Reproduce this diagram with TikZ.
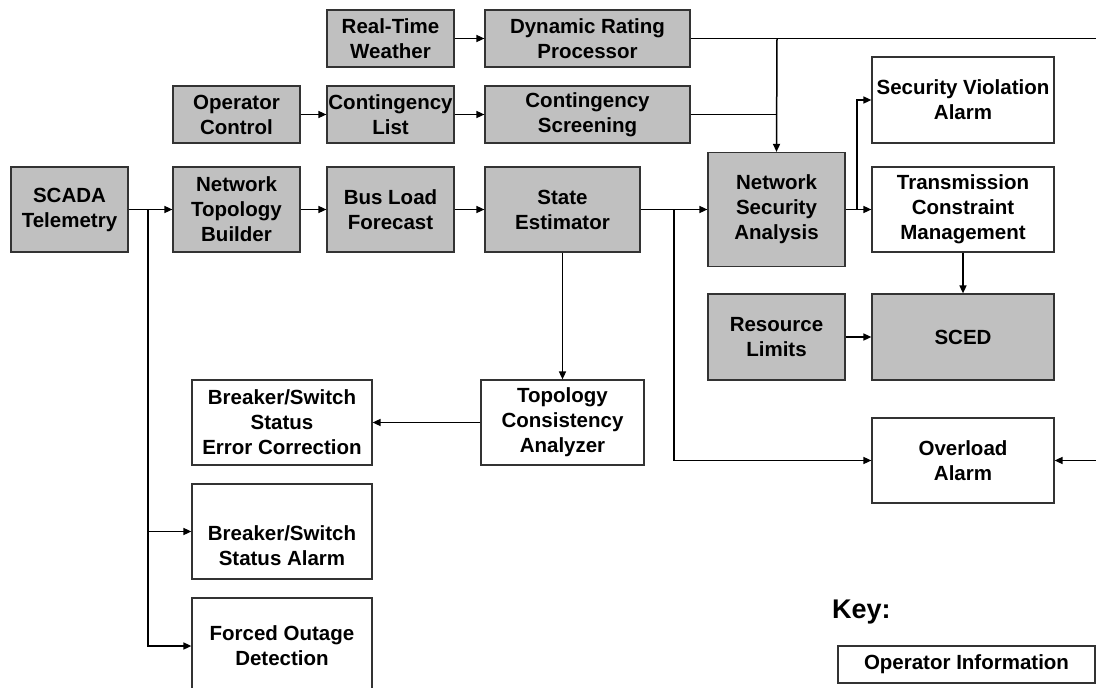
\documentclass[tikz,border=0pt]{standalone}
\usepackage{fontspec}
\setmainfont{Liberation Sans}
\usetikzlibrary{arrows.meta}
\definecolor{boxgray}{HTML}{C0C0C0}
\definecolor{edgegray}{HTML}{333333}
\tikzset{
  box/.style={draw=edgegray, line width=1.2pt, align=center, inner sep=0pt,
    font=\fontsize{20.5}{25}\selectfont\bfseries, text=black},
  gbox/.style={box, fill=boxgray},
  wbox/.style={box, fill=white},
  arr/.style={line width=1.5pt, -{Triangle[length=8pt,width=7pt]}},
  ln/.style={line width=1.5pt},
}
\begin{document}
\begin{tikzpicture}[x=1pt,y=-1pt]
\useasboundingbox (0,0) rectangle (1096,688);
\fill[white] (0,0) rectangle (1096,688);
% top rows
\node[gbox, minimum width=127pt, minimum height=57pt] (rtw) at (390.5,38.5) {Real-Time\\Weather};
\node[gbox, minimum width=205pt, minimum height=57pt] (drp) at (587.5,38.5) {Dynamic Rating\\Processor};
\node[gbox, minimum width=127pt, minimum height=57pt] (opc) at (236.5,114.5) {Operator\\Control};
\node[gbox, minimum width=127pt, minimum height=57pt] (cl) at (390.5,114.5) {Contingency\\List};
\node[gbox, minimum width=205pt, minimum height=57pt] (cs) at (587.5,114.5) {Contingency\\Screening};
% main row
\node[gbox, minimum width=117pt, minimum height=85pt] (scada) at (69.5,209.5) {SCADA\\Telemetry};
\node[gbox, minimum width=127pt, minimum height=85pt] (ntb) at (236.5,209.5) {Network\\Topology\\Builder};
\node[gbox, minimum width=127pt, minimum height=85pt] (blf) at (390.5,209.5) {Bus Load\\Forecast};
\node[gbox, minimum width=155pt, minimum height=85pt] (se) at (562.5,209.5) {State\\Estimator};
\node[gbox, minimum width=137pt, minimum height=114pt] (nsa) at (776.5,209.5) {Network\\Security\\Analysis};
\node[wbox, minimum width=182pt, minimum height=86pt] (sva) at (963,100) {Security Violation\\Alarm};
\node[wbox, minimum width=182pt, minimum height=85pt] (tcm) at (963,209.5) {Transmission\\Constraint\\Management};
\node[gbox, minimum width=137pt, minimum height=86pt] (rl) at (776.5,337) {Resource\\Limits};
\node[gbox, minimum width=182pt, minimum height=86pt] (sced) at (963,337) {SCED};
\node[wbox, minimum width=182pt, minimum height=85pt] (ova) at (963,460.5) {Overload\\Alarm};
\node[wbox, minimum width=163pt, minimum height=85pt] (tca) at (562.5,422.5) {Topology\\Consistency\\Analyzer};
\node[wbox, minimum width=180pt, minimum height=85pt] (bssec) at (282,422.5) {Breaker/Switch\\Status\\Error Correction};
\node[wbox, minimum width=180pt, minimum height=95pt] (bssa) at (282,531.5) {\strut\\Breaker/Switch\\Status Alarm};
\node[wbox, minimum width=180pt, minimum height=96pt] (fod) at (282,646) {Forced Outage\\Detection};
% key
\node[anchor=west, inner sep=0pt, font=\fontsize{27}{30}\selectfont\bfseries] (key) at (832,612) {Key:};
\node[wbox, minimum width=257pt, minimum height=37pt] (opi) at (966.5,664.5) {Operator Information};
% junction coordinates
\coordinate (j1) at (148,209.5);
\coordinate (j2) at (674,209.5);
\coordinate (j3) at (777,38.5);
\coordinate (j4) at (857,209.5);
\coordinate (rc) at (1110,38.5);
% connectors
\draw[arr] (rtw) -- (drp);
\draw[arr] (opc) -- (cl);
\draw[arr] (cl) -- (cs);
\draw[arr] (scada) -- (ntb);
\draw[arr] (ntb) -- (blf);
\draw[arr] (blf) -- (se);
\draw[arr] (se) -- (nsa);
\draw[arr] (nsa) -- (tcm);
\draw[arr] (j1) |- (fod.west);
\draw[arr] (j1 |- bssa.west) -- (bssa.west);
\draw[arr] (j2) |- (ova.west);
\draw[ln] (drp.east) -- (rc);
\draw[arr] (rc) |- (ova.east);
\draw[arr] (j3) -- (nsa.north);
\draw[ln] (cs.east) -- (cs.east -| j3);
\draw[arr] (j4) |- (sva.west);
\draw[arr] (tcm) -- (sced);
\draw[arr] (rl) -- (sced);
\draw[arr] (se) -- (tca);
\draw[arr] (tca) -- (bssec);
\end{tikzpicture}
\end{document}
